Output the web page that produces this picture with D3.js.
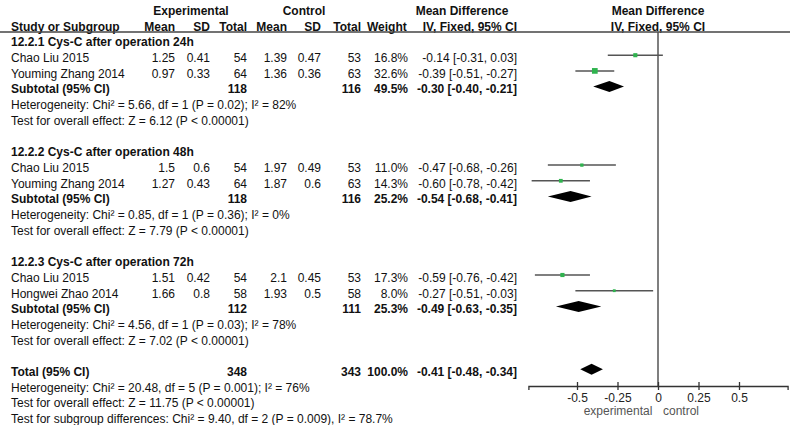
<!DOCTYPE html>
<html><head><meta charset="utf-8">
<script src="https://cdn.jsdelivr.net/npm/d3@7"></script>
<style>
html,body{margin:0;padding:0;background:#fff;}
svg text{font-family:"Liberation Sans",Arial,sans-serif;font-size:12px;fill:#111;}
</style></head>
<body><svg id="c" width="800" height="425"></svg>
<script>
// ---------- data ----------
const subgroupTitles = ["12.2.1 Cys-C after operation 24h", "12.2.2 Cys-C after operation 48h", "12.2.3 Cys-C after operation 72h"];
const studyNames = ["Chao Liu 2015", "Youming Zhang 2014", "Chao Liu 2015", "Youming Zhang 2014", "Chao Liu 2015", "Hongwei Zhao 2014"];
const studyGroup = [0, 0, 1, 1, 2, 2];
const expMean = ["1.25", "0.97", "1.5", "1.27", "1.51", "1.66"];
const expSD = ["0.41", "0.33", "0.6", "0.43", "0.42", "0.8"];
const expN = [54, 64, 54, 64, 54, 58];
const ctlMean = ["1.39", "1.36", "1.97", "1.87", "2.1", "1.93"];
const ctlSD = ["0.47", "0.36", "0.49", "0.6", "0.45", "0.5"];
const ctlN = [53, 63, 53, 63, 53, 58];
const studyWeight = [16.8, 32.6, 11.0, 14.3, 17.3, 8.0];
const studyMD = [-0.14, -0.39, -0.47, -0.60, -0.59, -0.27];
const studyLo = [-0.31, -0.51, -0.68, -0.78, -0.76, -0.51];
const studyHi = [0.03, -0.27, -0.26, -0.42, -0.42, -0.03];

const subExpN = [118, 118, 112];
const subCtlN = [116, 116, 111];
const subWeight = [49.5, 25.2, 25.3];
const subMD = [-0.30, -0.54, -0.49];
const subLo = [-0.40, -0.68, -0.63];
const subHi = [-0.21, -0.41, -0.35];
const subHet = ["Heterogeneity: Chi\u00B2 = 5.66, df = 1 (P = 0.02); I\u00B2 = 82%",
                "Heterogeneity: Chi\u00B2 = 0.85, df = 1 (P = 0.36); I\u00B2 = 0%",
                "Heterogeneity: Chi\u00B2 = 4.56, df = 1 (P = 0.03); I\u00B2 = 78%"];
const subEffect = ["Test for overall effect: Z = 6.12 (P < 0.00001)",
                   "Test for overall effect: Z = 7.79 (P < 0.00001)",
                   "Test for overall effect: Z = 7.02 (P < 0.00001)"];

const totalExpN = 348, totalCtlN = 343, totalWeight = 100.0;
const totalMD = -0.41, totalLo = -0.48, totalHi = -0.34;
const totalLines = ["Heterogeneity: Chi\u00B2 = 20.48, df = 5 (P = 0.001); I\u00B2 = 76%",
                    "Test for overall effect: Z = 11.75 (P < 0.00001)",
                    "Test for subgroup differences: Chi\u00B2 = 9.40, df = 2 (P = 0.009), I\u00B2 = 78.7%"];

const tickValues = [-0.5, -0.25, 0, 0.25, 0.5];
const tickLabels = ["-0.5", "-0.25", "0", "0.25", "0.5"];
const axisDomain = [-0.8, 0.8];
const favoursLeft = "experimental", favoursRight = "control";

// ---------- layout ----------
const svg = d3.select("#c");
const rowY = i => 10.6 + i * 15.7;           // text centre for row i
const base = i => rowY(i) + 4.3;             // baseline
const markY = i => rowY(i) - 2.5;            // mark centre
const x = d3.scaleLinear().domain(axisDomain).range([528.4, 787.6]);
const size = d3.scaleSqrt().domain([0, 100]).range([0, 10]);
const col = {name: 11, eMean: 175, eSD: 210, eN: 247, cMean: 287, cSD: 321, cN: 361, w: 408, md: 517};
const fmt = v => v.toFixed(2);
const mdText = (m, l, h) => `${fmt(m)} [${fmt(l)}, ${fmt(h)}]`;

function txt(xp, row, s, opts = {}) {
  const t = svg.append("text").attr("x", xp).attr("y", base(row)).text(s);
  if (opts.anchor) t.attr("text-anchor", opts.anchor);
  if (opts.bold) t.attr("font-weight", "bold");
  if (opts.fill) t.style("fill", opts.fill);
  return t;
}

// headers
txt(191, 0, "Experimental", {anchor: "middle", bold: true});
txt(304, 0, "Control", {anchor: "middle", bold: true});
txt(462, 0, "Mean Difference", {anchor: "middle", bold: true});
txt(658, 0, "Mean Difference", {anchor: "middle", bold: true});
txt(col.name, 1, "Study or Subgroup", {bold: true});
txt(col.eMean, 1, "Mean", {anchor: "end", bold: true});
txt(col.eSD, 1, "SD", {anchor: "end", bold: true});
txt(col.eN, 1, "Total", {anchor: "end", bold: true});
txt(col.cMean, 1, "Mean", {anchor: "end", bold: true});
txt(col.cSD, 1, "SD", {anchor: "end", bold: true});
txt(col.cN, 1, "Total", {anchor: "end", bold: true});
txt(367, 1, "Weight", {bold: true});
txt(col.md, 1, "IV, Fixed, 95% CI", {anchor: "end", bold: true});
txt(658, 1, "IV, Fixed, 95% CI", {anchor: "middle", bold: true});

svg.append("line").attr("x1", 0).attr("x2", 790).attr("y1", 32).attr("y2", 32)
   .attr("stroke", "#444").attr("stroke-width", 1.3);

// rows
const groupStart = [2, 9, 16];
const axisY = 386;
svg.append("line").attr("x1", x(0)).attr("x2", x(0)).attr("y1", 32).attr("y2", axisY)
   .attr("stroke", "#555").attr("stroke-width", 1.5);

function diamond(row, m, l, h) {
  const cy = markY(row), hh = 5.5;
  svg.append("path")
    .attr("d", `M${x(l)},${cy}L${x(m)},${cy - hh}L${x(h)},${cy}L${x(m)},${cy + hh}Z`)
    .attr("fill", "#000");
}

subgroupTitles.forEach((title, g) => {
  const r0 = groupStart[g];
  txt(col.name, r0, title, {bold: true});
  const idx = studyGroup.map((v, i) => v === g ? i : -1).filter(i => i >= 0);
  idx.forEach((i, k) => {
    const r = r0 + 1 + k;
    txt(col.name, r, studyNames[i]);
    txt(col.eMean, r, expMean[i], {anchor: "end"});
    txt(col.eSD, r, expSD[i], {anchor: "end"});
    txt(col.eN, r, expN[i], {anchor: "end"});
    txt(col.cMean, r, ctlMean[i], {anchor: "end"});
    txt(col.cSD, r, ctlSD[i], {anchor: "end"});
    txt(col.cN, r, ctlN[i], {anchor: "end"});
    txt(col.w, r, studyWeight[i].toFixed(1) + "%", {anchor: "end"});
    txt(col.md, r, mdText(studyMD[i], studyLo[i], studyHi[i]), {anchor: "end"});
    const cy = markY(r);
    svg.append("line").attr("x1", x(studyLo[i])).attr("x2", x(studyHi[i]))
       .attr("y1", cy).attr("y2", cy).attr("stroke", "#555").attr("stroke-width", 1.5);
    const s = size(studyWeight[i]);
    svg.append("rect").attr("x", x(studyMD[i]) - s / 2).attr("y", cy - s / 2)
       .attr("width", s).attr("height", s).attr("fill", "#2fb34e");
  });
  const rs = r0 + 3;
  txt(col.name, rs, "Subtotal (95% CI)", {bold: true});
  txt(col.eN, rs, subExpN[g], {anchor: "end", bold: true});
  txt(col.cN, rs, subCtlN[g], {anchor: "end", bold: true});
  txt(col.w, rs, subWeight[g].toFixed(1) + "%", {anchor: "end", bold: true});
  txt(col.md, rs, mdText(subMD[g], subLo[g], subHi[g]), {anchor: "end", bold: true});
  diamond(rs, subMD[g], subLo[g], subHi[g]);
  txt(col.name, rs + 1, subHet[g]);
  txt(col.name, rs + 2, subEffect[g]);
});

// total
const rt = 23;
txt(col.name, rt, "Total (95% CI)", {bold: true});
txt(col.eN, rt, totalExpN, {anchor: "end", bold: true});
txt(col.cN, rt, totalCtlN, {anchor: "end", bold: true});
txt(col.w, rt, totalWeight.toFixed(1) + "%", {anchor: "end", bold: true});
txt(col.md, rt, mdText(totalMD, totalLo, totalHi), {anchor: "end", bold: true});
diamond(rt, totalMD, totalLo, totalHi);
totalLines.forEach((s, k) => txt(col.name, rt + 1 + k, s));

// axis
const ax = svg.append("g").attr("transform", `translate(0,${axisY})`)
  .call(d3.axisBottom(x).tickValues(tickValues).tickFormat((d, i) => tickLabels[i]).tickSizeOuter(0).tickSize(4));
ax.select(".domain").attr("stroke", "#333").attr("stroke-width", 1.3);
ax.selectAll(".tick line").attr("y1", -4).attr("y2", 4).attr("stroke", "#333").attr("stroke-width", 1.3);
ax.selectAll(".tick text").attr("y", 7).attr("dy", "0.71em")
  .style("font-family", "Liberation Sans, Arial, sans-serif").style("font-size", "12px").style("fill", "#222");

svg.append("text").attr("x", 618).attr("y", 415).attr("text-anchor", "middle").style("fill", "#555").text(favoursLeft);
svg.append("text").attr("x", 681).attr("y", 415).attr("text-anchor", "middle").style("fill", "#555").text(favoursRight);
</script>
</body></html>
